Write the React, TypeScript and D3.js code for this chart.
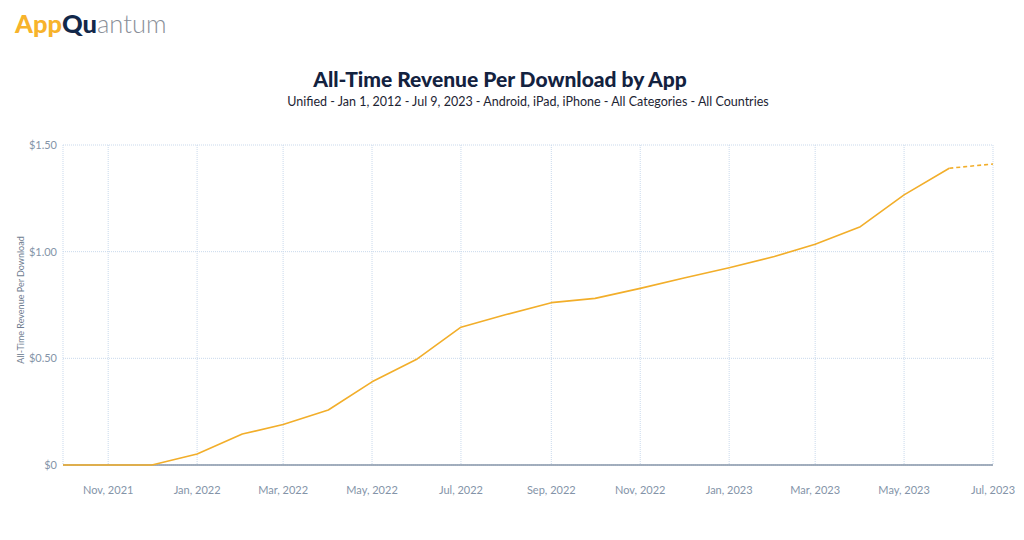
import React from "react";
import * as d3 from "d3";

const months: string[] = [
  "2021-10-01", "2021-11-01", "2021-12-01", "2022-01-01", "2022-02-01", "2022-03-01",
  "2022-04-01", "2022-05-01", "2022-06-01", "2022-07-01", "2022-08-01", "2022-09-01",
  "2022-10-01", "2022-11-01", "2022-12-01", "2023-01-01", "2023-02-01", "2023-03-01",
  "2023-04-01", "2023-05-01", "2023-06-01", "2023-07-01",
];
const revenuePerDownload: number[] = [
  0, 0, 0, 0.052, 0.145, 0.19, 0.258, 0.39, 0.497, 0.646, 0.705, 0.761,
  0.781, 0.828, 0.877, 0.925, 0.977, 1.035, 1.117, 1.266, 1.391, 1.411,
];
const yTicks: number[] = [0, 0.5, 1.0, 1.5];
const xTickDates: string[] = [
  "2021-11-01", "2022-01-01", "2022-03-01", "2022-05-01", "2022-07-01", "2022-09-01",
  "2022-11-01", "2023-01-01", "2023-03-01", "2023-05-01", "2023-07-01",
];
const title = "All-Time Revenue Per Download by App";
const subtitle = "Unified - Jan 1, 2012 - Jul 9, 2023 - Android, iPad, iPhone - All Categories - All Countries";
const yAxisTitle = "All-Time Revenue Per Download";

const W = 1024;
const H = 540;
const M = { left: 63, right: 993, top: 145, bottom: 465 };
const FONT = "Lato, 'Noto Sans', sans-serif";

export default function App() {
  const parse = d3.utcParse("%Y-%m-%d");
  const data = months.map((m, i) => ({ d: parse(m) as Date, v: revenuePerDownload[i] }));
  const x = d3
    .scaleUtc()
    .domain([parse("2021-10-01") as Date, parse("2023-07-01") as Date])
    .range([M.left, M.right]);
  const y = d3.scaleLinear().domain([0, 1.5]).range([M.bottom, M.top]);
  const line = d3
    .line<{ d: Date; v: number }>()
    .x((p) => x(p.d))
    .y((p) => y(p.v));
  const solid = data.slice(0, data.length - 1);
  const dashed = data.slice(data.length - 2);
  const fmtX = d3.utcFormat("%b, %Y");
  const fmtY = (v: number) => (v === 0 ? "$0" : d3.format("$.2f")(v));
  const gridColor = "#c9d9ec";
  const tickColor = "#8494a8";
  const xt = xTickDates.map((s) => parse(s) as Date);

  return (
    <svg
      width={W}
      height={H}
      style={{ position: "absolute", left: 0, top: 0, background: "#fff" }}
      fontFamily={FONT}
    >
      {/* logo */}
      <text x={15} y={33} fontSize={25.5} fontFamily="Lato, sans-serif">
        <tspan fill="#f7b32b" fontWeight={900}>App</tspan>
        <tspan fill="#12284a" fontWeight={900}>Qu</tspan>
        <tspan fill="#8a8f99" fontWeight={300}>antum</tspan>
      </text>

      {/* titles */}
      <text x={500} y={87} textAnchor="middle" fontSize={21} fontWeight={900} fill="#13223f">
        {title}
      </text>
      <text x={528} y={106} textAnchor="middle" fontSize={12.5} fill="#1d2433">
        {subtitle}
      </text>

      {/* grid */}
      {yTicks.map((t) => (
        <line
          key={"gy" + t}
          x1={M.left}
          x2={M.right}
          y1={y(t)}
          y2={y(t)}
          stroke={gridColor}
          strokeWidth={1}
          strokeDasharray="1,1"
        />
      ))}
      {[parse("2021-10-01") as Date, ...xt].map((t, i) => (
        <line
          key={"gx" + i}
          x1={x(t)}
          x2={x(t)}
          y1={M.top}
          y2={M.bottom}
          stroke={gridColor}
          strokeWidth={1}
          strokeDasharray="1,1"
        />
      ))}

      {/* y ticks */}
      {yTicks.map((t) => (
        <text
          key={"ty" + t}
          x={M.left - 6}
          y={y(t)}
          dy="0.35em"
          textAnchor="end"
          fontSize={11}
          fill={tickColor}
        >
          {fmtY(t)}
        </text>
      ))}
      <text
        transform={`translate(24,300) rotate(-90)`}
        textAnchor="middle"
        fontSize={9}
        fill="#6f7d90"
      >
        {yAxisTitle}
      </text>

      {/* x ticks */}
      {xt.map((t, i) => (
        <text
          key={"tx" + i}
          x={x(t)}
          y={494}
          textAnchor="middle"
          fontSize={11}
          fill={tickColor}
        >
          {fmtX(t)}
        </text>
      ))}

      {/* baseline */}
      <line x1={M.left} x2={M.right} y1={y(0)} y2={y(0)} stroke="#8796a8" strokeWidth={1.5} />

      {/* series */}
      <path d={line(solid) || ""} fill="none" stroke="#f2ae2a" strokeWidth={1.6} strokeLinejoin="round" />
      <path
        d={line(dashed) || ""}
        fill="none"
        stroke="#f2ae2a"
        strokeWidth={1.6}
        strokeDasharray="4,3"
      />
    </svg>
  );
}
